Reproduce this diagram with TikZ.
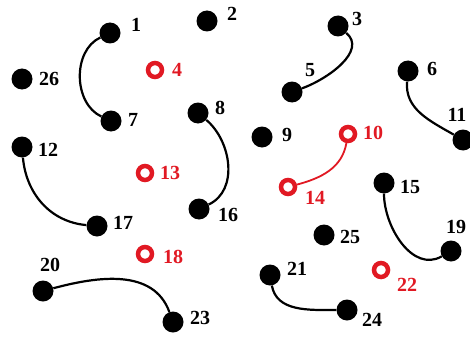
\documentclass[tikz,border=0pt]{standalone}
\usepackage{fontspec}
\setmainfont{Liberation Serif}
\usepackage{xcolor}
\usepackage{tikz}

\definecolor{ringred}{RGB}{225,25,35}
\tikzset{
  dot/.style={circle, fill=black, inner sep=0pt, minimum size=21pt},
  ring/.style={circle, draw=ringred, line width=4.5pt, fill=white, inner sep=0pt, minimum size=14pt},
  num/.style={font=\fontsize{20}{20}\selectfont\bfseries, inner sep=0pt},
  rednum/.style={num, text=ringred},
  link/.style={line width=2.2pt},
  redlink/.style={line width=1.8pt, draw=ringred}
}

\begin{document}
\begin{tikzpicture}[x=1pt, y=1pt]
  \useasboundingbox (0,0) rectangle (470,338);

  % black dots
  \node[dot] (n1) at (110,305) {};
  \node[dot] (n2) at (207,317) {};
  \node[dot] (n3) at (338,312) {};
  \node[dot] (n5) at (292,246) {};
  \node[dot] (n6) at (408,267) {};
  \node[dot] (n7) at (111,217) {};
  \node[dot] (n8) at (198,225) {};
  \node[dot] (n9) at (262,201) {};
  \node[dot] (n11) at (463,198) {};
  \node[dot] (n12) at (22,191) {};
  \node[dot] (n15) at (384,155) {};
  \node[dot] (n16) at (199,129) {};
  \node[dot] (n17) at (97,112) {};
  \node[dot] (n19) at (451,87) {};
  \node[dot] (n20) at (43,47) {};
  \node[dot] (n21) at (270,63) {};
  \node[dot] (n23) at (173,16) {};
  \node[dot] (n24) at (347,28) {};
  \node[dot] (n25) at (324,103) {};
  \node[dot] (n26) at (22,259) {};

  % red rings
  \node[ring] (n4) at (155,268) {};
  \node[ring] (n10) at (348,204) {};
  \node[ring] (n13) at (145,165) {};
  \node[ring] (n14) at (288,151) {};
  \node[ring] (n18) at (145,84) {};
  \node[ring] (n22) at (381,68) {};

  % numbers
  \node[num] (l1) at (136,313) {1};
  \node[num] (l2) at (232,324) {2};
  \node[num] (l3) at (357,319) {3};
  \node[rednum] (l4) at (177,268) {4};
  \node[num] (l5) at (310,268) {5};
  \node[num] (l6) at (432,269) {6};
  \node[num] (l7) at (133,218) {7};
  \node[num] (l8) at (220,230) {8};
  \node[num] (l9) at (287,203) {9};
  \node[rednum] (l10) at (373,205) {10};
  \node[num] (l11) at (457,223) {11};
  \node[num] (l12) at (48,188) {12};
  \node[rednum] (l13) at (170,165) {13};
  \node[rednum] (l14) at (315,140) {14};
  \node[num] (l15) at (410,151) {15};
  \node[num] (l16) at (228,123) {16};
  \node[num] (l17) at (123,115) {17};
  \node[rednum] (l18) at (173,81) {18};
  \node[num] (l19) at (456,111) {19};
  \node[num] (l20) at (50,73) {20};
  \node[num] (l21) at (297,69) {21};
  \node[rednum] (l22) at (407,53) {22};
  \node[num] (l23) at (200,20) {23};
  \node[num] (l24) at (372,18) {24};
  \node[num] (l25) at (350,101) {25};
  \node[num] (l26) at (49,259) {26};

  % pairs
  \draw[link] (n1) to[out=205, in=155] (n7);
  \draw[link] (n8) to[out=-40, in=25] (n16);
  \draw[link] (n12) to[out=-85, in=175] (n17);
  \draw[link] (n20) to[out=15, in=110] (n23);
  \draw[link] (n3) to[out=-40, in=20] (n5);
  \draw[link] (n6) to[out=-95, in=150] (n11);
  \draw[link] (n15) to[out=-90, in=-150] (n19);
  \draw[link] (n21) to[out=-80, in=180] (n24);
  \draw[redlink] (n10) to[out=-100, in=15] (n14);
\end{tikzpicture}
\end{document}
